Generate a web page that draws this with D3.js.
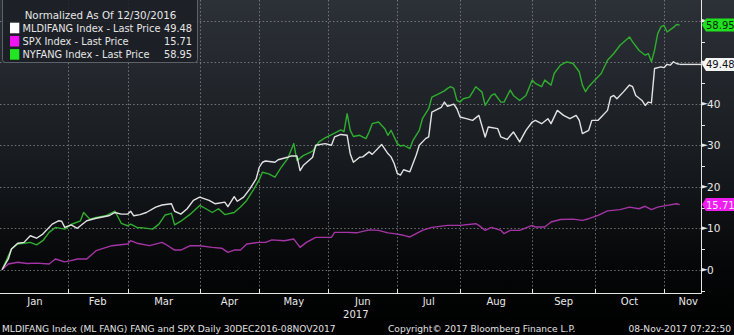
<!DOCTYPE html>
<html>
<head>
<meta charset="utf-8">
<script src="https://cdn.jsdelivr.net/npm/d3@7/dist/d3.min.js"></script>
<style>
  html, body { margin: 0; padding: 0; background: #000; }
  svg { display: block; }
  text { font-family: "DejaVu Sans", Verdana, sans-serif; }
</style>
</head>
<body>
<svg id="chart" width="734" height="335"></svg>
<script>
// ---- Calendar: NYSE sessions from 30 Dec 2016 through 8 Nov 2017 ----
const startDate = "2016-12-30";
const endDate = "2017-11-08";
const holidays = ["2017-01-02", "2017-01-16", "2017-02-20", "2017-04-14",
                  "2017-05-29", "2017-07-04", "2017-09-04"];
const monthLabels = ["Jan", "Feb", "Mar", "Apr", "May", "Jun", "Jul", "Aug", "Sep", "Oct", "Nov"];
const yearLabel = "2017";
const yMajorTicks = [0, 10, 20, 30, 40, 50, 60];
const yMinorTicks = [-5, 5, 15, 25, 35, 45, 55];

// ---- Series: [session number, % change since 30 Dec 2016] ----
const mldifang = [
  [0,0],[2,2.6],[3,5.0],[5,6.4],[7,6.6],[9,8.2],[11,7.6],[13,8.6],[16,11.0],[18,11.8],
  [19,11.7],[20,10.2],[22,10.8],[24,10.0],[27,11.8],[30,12.4],[34,13.0],[36,13.8],[38,13.4],
  [40,13.4],[41,14.1],[42,13.0],[44,13.3],[46,13.8],[49,15.1],[51,15.6],[54,15.9],[55,14.1],
  [57,13.4],[59,14.7],[61,16.7],[63,17.5],[66,16.7],[68,15.9],[71,16.3],[72,15.2],[74,17.6],
  [75,16.5],[77,17.5],[79,19.5],[81,21.9],[82,24.7],[83,25.9],[84,26.2],[87,25.9],[88,26.5],
  [91,27.1],[92,27.4],[94,27.4],[95,23.9],[96,25.1],[99,27.1],[100,30.0],[103,30.4],[105,30.0],
  [106,32.0],[108,32.6],[110,32.4],[111,27.9],[112,25.9],[114,27.1],[115,27.2],[117,28.4],
  [118,27.8],[121,30.2],[123,28.0],[124,27.2],[125,25.6],[126,23.2],[127,22.8],[128,24.1],
  [130,23.6],[132,27.6],[133,30.0],[135,31.6],[136,32.0],[137,38.0],[140,39.1],[141,40.4],
  [142,39.4],[144,39.9],[145,38.8],[146,36.8],[148,36.4],[150,36.0],[152,37.2],[154,32.0],
  [155,34.4],[158,34.0],[159,32.0],[161,31.4],[163,33.2],[165,30.8],[167,33.6],[169,35.6],
  [170,36.0],[172,35.2],[174,36.4],[175,35.2],[177,38.4],[179,37.2],[181,36.4],[183,37.2],
  [184,36.0],[185,32.8],[187,33.6],[188,36.0],[190,36.0],[191,36.8],[193,38.4],[194,41.6],
  [195,42.0],[196,41.2],[198,42.8],[200,44.5],[201,44.1],[202,42.0],[204,40.8],[205,39.6],
  [206,40.4],[207,40.2],[208,48.5],[210,48.9],[211,48.7],[212,49.5],[213,49.3],[214,50.1],
  [215,49.7],[216,49.48]
];
const spx = [
  [0,0],[2,1.4],[5,1.8],[8,1.5],[11,1.6],[15,1.4],[17,2.6],[20,1.9],[22,2.2],[24,2.6],
  [27,2.6],[30,4.6],[35,5.8],[40,6.2],[41,7.0],[43,6.4],[47,5.8],[51,6.6],[52,6.2],[55,4.75],
  [57,4.75],[60,5.8],[63,5.8],[67,5.4],[70,5.2],[72,4.2],[74,4.75],[76,4.75],[78,6.2],[82,6.6],
  [84,6.6],[86,7.2],[90,7.0],[93,7.4],[95,5.4],[97,6.6],[100,7.8],[105,7.8],[106,9.0],[110,9.0],
  [113,8.9],[117,9.6],[120,9.5],[123,8.9],[125,8.7],[128,8.3],[130,7.9],[132,8.7],[134,9.5],
  [137,10.2],[142,10.7],[146,10.7],[151,11.1],[152,10.7],[154,9.5],[156,10.2],[159,9.5],
  [160,8.7],[162,9.5],[165,9.5],[169,10.7],[170,10.3],[173,10.3],[175,11.5],[178,12.1],
  [182,12.2],[185,11.9],[187,12.3],[190,13.1],[193,14.2],[197,14.5],[200,15.1],[203,14.7],
  [205,15.3],[207,14.5],[209,15.1],[212,15.5],[215,15.9],[216,15.71]
];
const nyfang = [
  [0,0],[3,5.0],[5,6.2],[7,6.4],[9,6.6],[11,6.0],[13,7.0],[15,9.0],[17,10.2],[20,9.8],
  [22,10.9],[25,11.8],[26,13.8],[28,12.2],[30,12.6],[33,13.0],[36,14.1],[38,11.2],[40,10.6],
  [41,11.0],[43,10.2],[45,10.1],[48,9.8],[50,11.0],[52,13.2],[54,13.6],[55,10.8],[57,11.7],
  [60,13.4],[63,15.5],[65,14.7],[67,13.8],[69,14.7],[71,13.3],[74,13.8],[76,15.1],[78,16.7],
  [80,19.1],[82,21.7],[83,23.5],[85,23.1],[87,22.3],[89,24.7],[91,26.7],[93,30.4],[94,26.3],
  [96,27.5],[99,28.6],[101,30.8],[103,31.8],[106,32.9],[108,33.7],[109,33.3],[110,37.6],
  [111,33.6],[112,32.1],[114,32.4],[116,31.6],[117,33.2],[118,35.2],[120,35.6],[122,34.0],
  [123,32.4],[124,33.6],[126,30.4],[127,29.8],[128,30.0],[130,29.2],[131,31.2],[133,33.6],
  [134,36.4],[135,37.6],[136,38.8],[137,41.6],[139,42.3],[141,43.1],[142,43.7],[143,44.1],
  [144,43.7],[145,40.8],[146,40.4],[147,41.2],[149,41.6],[150,42.8],[151,44.1],[153,42.8],
  [154,39.6],[156,42.0],[157,42.4],[159,40.4],[160,40.4],[162,43.3],[163,42.0],[165,40.8],
  [167,42.0],[169,45.7],[170,44.9],[172,44.1],[173,45.7],[175,44.5],[176,47.3],[178,49.3],
  [180,50.1],[182,49.7],[184,47.7],[185,44.5],[186,42.9],[187,44.1],[189,45.7],[191,47.3],
  [193,50.5],[195,52.1],[197,54.1],[200,56.1],[201,54.9],[203,52.9],[205,51.7],[206,52.1],
  [207,50.1],[208,52.9],[209,56.9],[210,58.5],[211,58.9],[212,57.3],[214,58.4],[215,59.1],
  [216,58.95]
];

const legendTitle = "Normalized As Of 12/30/2016";
const seriesNames = ["MLDIFANG Index - Last Price", "SPX Index - Last Price", "NYFANG Index - Last Price"];
const lastPrices = [49.48, 15.71, 58.95];

const footerLeft = "MLDIFANG Index (ML FANG) FANG and SPX  Daily 30DEC2016-08NOV2017";
const footerMid = "Copyright\u00A9 2017 Bloomberg Finance L.P.";
const footerRight = "08-Nov-2017 07:22:50";

// ---- Styling for each series ----
const series = [
  { name: seriesNames[0], data: mldifang, last: lastPrices[0], line: "#e2e2e2", swatch: "#ffffff", tag: "#f4f4f4", tagText: "#111", extend: true },
  { name: seriesNames[1], data: spx,      last: lastPrices[1], line: "#a534a5", swatch: "#f014f0", tag: "#ee1fee", tagText: "#fde6fd", extend: false },
  { name: seriesNames[2], data: nyfang,   last: lastPrices[2], line: "#2fae2f", swatch: "#22e622", tag: "#20e020", tagText: "#0a2a0a", extend: false }
];

const W = 734, H = 335;
const plotRight = 701, axisY = 293;

const svg = d3.select("#chart");

// Background fade from slate to black
const defs = svg.append("defs");
const grad = defs.append("linearGradient").attr("id", "bg").attr("x1", 0).attr("y1", 0).attr("x2", 0).attr("y2", 1);
grad.append("stop").attr("offset", "0%").attr("stop-color", "#2c3137");
grad.append("stop").attr("offset", "45%").attr("stop-color", "#191d22");
grad.append("stop").attr("offset", "80%").attr("stop-color", "#050607");
grad.append("stop").attr("offset", "100%").attr("stop-color", "#000000");
svg.append("rect").attr("width", W).attr("height", H).attr("fill", "url(#bg)");

// Trading sessions
const parse = d3.timeParse("%Y-%m-%d");
const fmt = d3.timeFormat("%Y-%m-%d");
const sessions = d3.timeDay.range(parse(startDate), d3.timeDay.offset(parse(endDate), 1))
  .filter(d => d.getDay() !== 0 && d.getDay() !== 6 && !holidays.includes(fmt(d)));

const x = d3.scaleLinear().domain([-0.65, 222.8]).range([0, plotRight]);
const y = d3.scaleLinear().domain([-5.6, 65]).range([axisY, 0]);

// First session of each month
const monthStarts = [];
sessions.forEach((d, i) => {
  if (i > 0 && d.getMonth() !== sessions[i - 1].getMonth()) monthStarts.push(i);
});

// Grid
const grid = svg.append("g").attr("stroke", "#8d9297").attr("stroke-opacity", 0.75)
  .attr("stroke-width", 1).attr("stroke-dasharray", "1.5,2.2");
grid.selectAll("line.h").data(yMajorTicks).join("line").attr("class", "h")
  .attr("x1", 0).attr("x2", plotRight)
  .attr("y1", d => Math.round(y(d)) + 0.5).attr("y2", d => Math.round(y(d)) + 0.5);
grid.selectAll("line.v").data(monthStarts.slice(1)).join("line").attr("class", "v")
  .attr("x1", d => Math.round(x(d)) + 0.5).attr("x2", d => Math.round(x(d)) + 0.5)
  .attr("y1", 0).attr("y2", axisY);

// Series lines
const line = d3.line().x(d => x(d[0])).y(d => y(d[1]));
series.slice().reverse().forEach(s => {
  svg.append("path").datum(s.data).attr("d", line)
    .attr("fill", "none").attr("stroke", s.line).attr("stroke-width", 1.4)
    .attr("stroke-linejoin", "round");
  if (s.extend) {
    const lastPt = s.data[s.data.length - 1];
    svg.append("line").attr("x1", x(lastPt[0])).attr("x2", plotRight)
      .attr("y1", y(s.last)).attr("y2", y(s.last))
      .attr("stroke", s.line).attr("stroke-width", 1.4);
  }
});

// Axes frame
const axisColor = "#e6e6e6";
svg.append("line").attr("x1", 0).attr("x2", plotRight + 0.5).attr("y1", axisY + 0.5).attr("y2", axisY + 0.5)
  .attr("stroke", axisColor).attr("stroke-width", 1);
svg.append("line").attr("x1", plotRight + 0.5).attr("x2", plotRight + 0.5).attr("y1", 0).attr("y2", axisY + 0.5)
  .attr("stroke", axisColor).attr("stroke-width", 1);

// Month ticks on the x axis
svg.selectAll("line.mt").data(monthStarts.slice(1)).join("line").attr("class", "mt")
  .attr("x1", d => Math.round(x(d)) + 0.5).attr("x2", d => Math.round(x(d)) + 0.5)
  .attr("y1", axisY - 4).attr("y2", axisY)
  .attr("stroke", axisColor);

// Month labels
const bounds = [0].concat(monthStarts.slice(1)).concat([x.domain()[1]]);
const mLabels = svg.append("g").attr("fill", "#e8e8e8").attr("font-size", 10);
monthLabels.forEach((m, i) => {
  const isLast = i === monthLabels.length - 1;
  mLabels.append("text")
    .attr("x", isLast ? plotRight - 3 : x((bounds[i] + bounds[i + 1]) / 2))
    .attr("y", 305)
    .attr("text-anchor", isLast ? "end" : "middle")
    .text(m);
});
const junIdx = monthLabels.indexOf("Jun");
mLabels.append("text").attr("x", x((bounds[junIdx] + bounds[junIdx + 1]) / 2) - 7).attr("y", 318)
  .attr("text-anchor", "middle").text(yearLabel);

// Right-hand value axis
const tagY = series.map(s => y(s.last));
const yAxis = svg.append("g").attr("fill", axisColor);
yMajorTicks.forEach(t => {
  const yy = y(t);
  yAxis.append("path").attr("d", `M${plotRight},${yy - 2}L${plotRight + 7},${yy}L${plotRight},${yy + 2}Z`);
  const hidden = tagY.some(ty => Math.abs(ty - yy) < 9);
  if (!hidden) {
    yAxis.append("text").attr("x", plotRight + 6).attr("y", yy + 4)
      .attr("font-size", 10.5).attr("fill", "#e8e8e8").text(t);
  }
});
yMinorTicks.forEach(t => {
  const yy = Math.round(y(t)) + 0.5;
  yAxis.append("line").attr("x1", plotRight).attr("x2", plotRight + 4).attr("y1", yy).attr("y2", yy)
    .attr("stroke", axisColor);
});

// Last-value tags
series.forEach(s => {
  const yy = y(s.last);
  const g = svg.append("g");
  g.append("path")
    .attr("d", `M${plotRight + 1},${yy}L${plotRight + 5},${yy - 6.5}L${W},${yy - 6.5}L${W},${yy + 6.5}L${plotRight + 5},${yy + 6.5}Z`)
    .attr("fill", s.tag);
  g.append("text").attr("x", plotRight + 5).attr("y", yy + 4)
    .attr("font-size", 10).attr("fill", s.tagText).text(s.last.toFixed(2));
});

// Legend
const lg = svg.append("g");
lg.append("rect").attr("x", 2.5).attr("y", -3).attr("width", 195).attr("height", 65.5).attr("rx", 3)
  .attr("fill", "#1b1f24").attr("fill-opacity", 0.85).attr("stroke", "#5d6268");
lg.append("text").attr("x", 100.5).attr("y", 19).attr("text-anchor", "middle")
  .attr("font-size", 10.3).attr("fill", "#e6e6e6").text(legendTitle);
series.forEach((s, i) => {
  const cy = 28 + i * 13.2;
  lg.append("rect").attr("x", 10).attr("y", cy - 5.3).attr("width", 9.3).attr("height", 10.6).attr("fill", s.swatch);
  lg.append("text").attr("x", 22.5).attr("y", cy + 4).attr("font-size", 9.8).attr("fill", "#e6e6e6").text(s.name);
  lg.append("text").attr("x", 192).attr("y", cy + 4).attr("text-anchor", "end")
    .attr("font-size", 9.8).attr("fill", "#e6e6e6").text(s.last.toFixed(2));
});

// Footer
const foot = svg.append("g").attr("fill", "#e2e2e2").attr("font-size", 9.1);
foot.append("text").attr("x", 2).attr("y", 332).text(footerLeft);
foot.append("text").attr("x", 388).attr("y", 332).text(footerMid);
foot.append("text").attr("x", 731).attr("y", 332).attr("text-anchor", "end").text(footerRight);
</script>
</body>
</html>
